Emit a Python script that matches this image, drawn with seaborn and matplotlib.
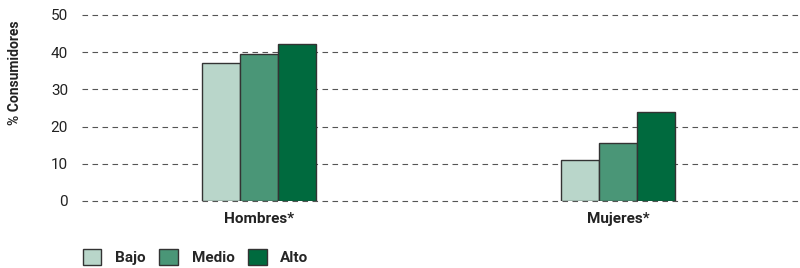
import pandas as pd
import matplotlib
matplotlib.use('Agg')
import matplotlib.pyplot as plt
import seaborn as sns
from matplotlib.patches import Patch

# Data
groups = ['Hombres*', 'Mujeres*']
levels = ['Bajo', 'Medio', 'Alto']
bajo = [37.0, 11.0]
medio = [39.5, 15.7]
alto = [42.2, 23.9]
colors = ['#b9d6ca', '#4a9677', '#006a3e']

df = pd.DataFrame({
    'grupo': groups * 3,
    'nivel': [l for l in levels for _ in groups],
    'valor': bajo + medio + alto,
})

sns.set_style('white')
plt.rcParams['font.family'] = ['Roboto', 'DejaVu Sans']

fig = plt.figure(figsize=(8, 2.68), dpi=100)
ax = fig.add_axes([82 / 800, 1 - 201 / 268, 1 - 82 / 800, (201 - 15) / 268])

sns.barplot(data=df, x='grupo', y='valor', hue='nivel', hue_order=levels,
            palette=colors, width=0.318, edgecolor='#333333', linewidth=1.0,
            saturation=1, ax=ax, legend=False, zorder=3)

ax.set_xlim(-0.493, 1.507)
ax.set_ylim(0, 50)
ax.set_yticks([0, 10, 20, 30, 40, 50])
ax.yaxis.grid(True, linestyle=(0, (5, 4)), color='#555555', linewidth=0.8)
for g in ax.get_ygridlines():
    g.set_clip_on(False)
ax.set_axisbelow(True)
for s in ax.spines.values():
    s.set_visible(False)
ax.tick_params(axis='both', length=0, labelsize=11, colors='#222222')
ax.tick_params(axis='y', pad=10)
ax.tick_params(axis='x', pad=8)
for t in ax.get_xticklabels():
    t.set_fontweight('bold')
ax.set_xlabel('')
ax.set_ylabel('% Consumidores', fontsize=10, fontweight='bold', color='#222222')
ax.yaxis.set_label_coords(-0.084, 0.69)

handles = [Patch(facecolor=c, edgecolor='#333333', label=l) for c, l in zip(colors, levels)]
leg = fig.legend(handles=handles, loc='center left', bbox_to_anchor=(83 / 800, 1 - 257 / 268),
                 ncol=3, frameon=False, handlelength=1.2, handleheight=1.2,
                 handletextpad=0.9, columnspacing=0.9, borderpad=0, borderaxespad=0,
                 prop={'size': 11, 'weight': 'bold'})

fig.savefig('out.png', dpi=100)
